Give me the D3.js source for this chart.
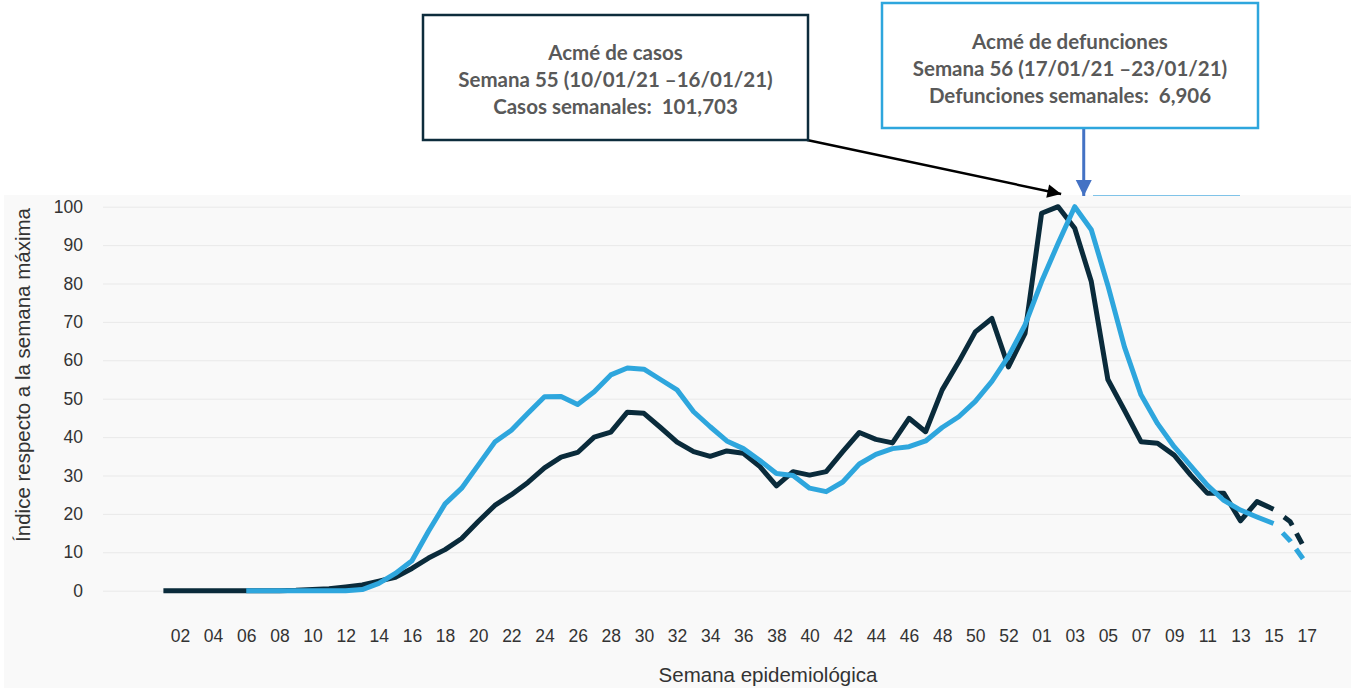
<!DOCTYPE html>
<html>
<head>
<meta charset="utf-8">
<script src="https://cdn.jsdelivr.net/npm/d3@7"></script>
<style>
  body { margin: 0; background: #fff; }
  svg { display: block; }
</style>
</head>
<body>
<script>
// week labels, 2020 (53 weeks) then 2021 up to week 17
var weeks = ["01","02","03","04","05","06","07","08","09","10",
             "11","12","13","14","15","16","17","18","19","20",
             "21","22","23","24","25","26","27","28","29","30",
             "31","32","33","34","35","36","37","38","39","40",
             "41","42","43","44","45","46","47","48","49","50",
             "51","52","53",
             "01","02","03","04","05","06","07","08","09","10",
             "11","12","13","14","15","16","17"];

var tickLabels = ["02","04","06","08","10","12","14","16","18","20","22","24","26",
                  "28","30","32","34","36","38","40","42","44","46","48","50","52",
                  "01","03","05","07","09","11","13","15","17"];

// index vs. max week (casos), one per week; last two weeks are the dashed projection
var casos = [0, 0, 0, 0, 0, 0, 0, 0, 0.1, 0.3,
             0.5, 1, 1.5, 2.5, 3.5, 5.8, 8.5, 10.7, 13.6, 18,
             22.2, 25, 28.2, 32, 34.8, 36, 40, 41.3, 46.5, 46.2,
             42.5, 38.7, 36.2, 35, 36.4, 35.8, 32.3, 27.3, 31, 30.1,
             31, 36.2, 41.2, 39.4, 38.5, 44.9, 41.4, 52.3, 59.6, 67.4,
             70.9, 58.3, 67,
             98.3, 100, 94.4, 80.5, 55, 47, 38.8, 38.4, 35.3, 30.1,
             25.4, 25.4, 18.2, 23.2, 21.2, 18, 10];

var defunciones = [null, null, null, null, null, 0, 0, 0, 0, 0,
                   0, 0, 0.3, 1.9, 4.5, 7.8, 15.5, 22.6, 26.7, 32.7,
                   38.7, 41.8, 46.2, 50.5, 50.6, 48.5, 51.8, 56.2, 58, 57.7,
                   55, 52.3, 46.6, 42.7, 39, 37, 33.9, 30.5, 30, 26.7,
                   25.8, 28.3, 33, 35.5, 37, 37.5, 39, 42.5, 45.3, 49.3,
                   54.5, 61, 69.2,
                   80.5, 90.5, 100, 94, 79.5, 63.5, 51, 43.5, 37.5, 32.5,
                   27.5, 23.5, 21, 19.2, 17.5, 13, 7];

var lastSolid = 67; // week 15 of 2021

var yTicks = [0, 10, 20, 30, 40, 50, 60, 70, 80, 90, 100];

var boxCasos = ["Acmé de casos", "Semana 55 (10/01/21 \u201316/01/21)", "Casos semanales:  101,703"];
var boxDef = ["Acmé de defunciones", "Semana 56 (17/01/21 \u201323/01/21)", "Defunciones semanales:  6,906"];

var width = 1351, height = 690;
var darkColor = "#0a2b3b", blueColor = "#2ea6dd";
var axisFont = "Liberation Sans, Arial, sans-serif";

var svg = d3.select("body")
            .append('svg')
            .attr("width", width)
            .attr("height", height);

// plot panel background
svg.append("rect")
   .attr("x", 4).attr("y", 195)
   .attr("width", width - 4).attr("height", 493)
   .attr("fill", "#f9f9f9");

var x = d3.scaleLinear()
          .domain([0, weeks.length - 1])
          .range([163.4, 1306.7]);

var y = d3.scaleLinear()
          .domain([0, 100])
          .range([590.7, 206.7]);

// grid + y labels
var yAxis = d3.axisLeft(y)
              .tickValues(yTicks)
              .tickSize(-(width - 103))
              .tickPadding(20);

var yg = svg.append("g")
            .attr("transform", "translate(103,0)")
            .call(yAxis);
yg.select(".domain").remove();
yg.selectAll(".tick line").attr("stroke", "#e9e9e9");
yg.selectAll(".tick text")
  .attr("fill", "#333")
  .attr("font-size", 17.5)
  .attr("font-family", axisFont);

// x labels: even weeks of 2020, odd weeks of 2021
var tickIdx = [];
weeks.forEach(function(w, i) {
    if (i > 0 && tickLabels.indexOf(w) >= 0 && (i < 53 ? (+w % 2 === 0) : (+w % 2 === 1))) tickIdx.push(i);
});

var xAxis = d3.axisBottom(x)
              .tickValues(tickIdx)
              .tickFormat(function(i) { return weeks[i]; })
              .tickSize(0)
              .tickPadding(0);

var xg = svg.append("g")
            .attr("transform", "translate(0,630)")
            .call(xAxis);
xg.select(".domain").remove();
xg.selectAll(".tick text")
  .attr("fill", "#333")
  .attr("font-size", 17.5)
  .attr("font-family", axisFont);

svg.append("text")
   .text("Semana epidemiológica")
   .attr("x", 768).attr("y", 682)
   .attr("text-anchor", "middle")
   .attr("font-size", 20.5)
   .attr("fill", "#333")
   .attr("font-family", axisFont);

svg.append("text")
   .text("Índice respecto a la semana máxima")
   .attr("transform", "translate(30,375) rotate(-90)")
   .attr("text-anchor", "middle")
   .attr("font-size", 20.5)
   .attr("fill", "#333")
   .attr("font-family", axisFont);

// lines
function drawSeries(values, color) {
    var pts = values.map(function(v, i) { return {i: i, v: v}; })
                    .filter(function(d) { return d.v !== null; });
    var line = d3.line().x(function(d) { return x(d.i); }).y(function(d) { return y(d.v); });
    svg.append("path")
       .datum(pts.filter(function(d) { return d.i <= lastSolid; }))
       .attr("d", line)
       .attr("fill", "none")
       .attr("stroke", color)
       .attr("stroke-width", 5)
       .attr("stroke-linejoin", "round");
    svg.append("path")
       .datum(pts.filter(function(d) { return d.i >= lastSolid; }))
       .attr("d", line)
       .attr("fill", "none")
       .attr("stroke", color)
       .attr("stroke-width", 5)
       .attr("stroke-dasharray", "0,13,12,9,12,9");
}

drawSeries(casos, darkColor);
drawSeries(defunciones, blueColor);

// annotations
var defs = svg.append("defs");
defs.append("marker").attr("id", "arrBlack")
    .attr("viewBox", "0 0 10 10").attr("refX", 10).attr("refY", 5)
    .attr("markerWidth", 6.5).attr("markerHeight", 5.5)
    .attr("markerUnits", "strokeWidth")
    .attr("orient", "auto")
    .append("path").attr("d", "M0,0L10,5L0,10Z").attr("fill", "#000");
defs.append("marker").attr("id", "arrBlue")
    .attr("viewBox", "0 0 10 10").attr("refX", 10).attr("refY", 5)
    .attr("markerWidth", 5.5).attr("markerHeight", 5.5)
    .attr("markerUnits", "strokeWidth")
    .attr("orient", "auto")
    .append("path").attr("d", "M0,0L10,5L0,10Z").attr("fill", "#4472c4");

var peakCasos = casos.indexOf(d3.max(casos));
var peakDef = defunciones.indexOf(d3.max(defunciones));

svg.append("line")
   .attr("x1", 807).attr("y1", 140)
   .attr("x2", x(peakCasos) + 3).attr("y2", 194)
   .attr("stroke", "#000").attr("stroke-width", 2.5)
   .attr("marker-end", "url(#arrBlack)");

svg.append("line")
   .attr("x1", x(peakDef) + 9).attr("y1", 128)
   .attr("x2", x(peakDef) + 9).attr("y2", 196)
   .attr("stroke", "#4472c4").attr("stroke-width", 3)
   .attr("marker-end", "url(#arrBlue)");

svg.append("line")
   .attr("x1", 1093).attr("y1", 195.5).attr("x2", 1240).attr("y2", 195.5)
   .attr("stroke", "#7fc3e8").attr("stroke-width", 1);

function drawBox(x0, y0, w, h, stroke, lines, baseline) {
    svg.append("rect")
       .attr("x", x0).attr("y", y0)
       .attr("width", w).attr("height", h)
       .attr("fill", "#fff")
       .attr("stroke", stroke)
       .attr("stroke-width", 2.5);
    svg.append("g").selectAll("text")
       .data(lines).enter()
       .append("text")
       .text(function(d) { return d; })
       .attr("x", x0 + w / 2)
       .attr("y", function(d, i) { return baseline + i * 27; })
       .attr("text-anchor", "middle")
       .attr("font-size", 20.5)
       .attr("font-weight", "bold")
       .attr("fill", "#595959")
       .attr("font-family", "Lato, Open Sans, sans-serif")
       .style("white-space", "pre");
}

drawBox(423, 15, 385, 125, "#0d2c3c", boxCasos, 60);
drawBox(882, 3, 376, 125, blueColor, boxDef, 49);
</script>
</body>
</html>
